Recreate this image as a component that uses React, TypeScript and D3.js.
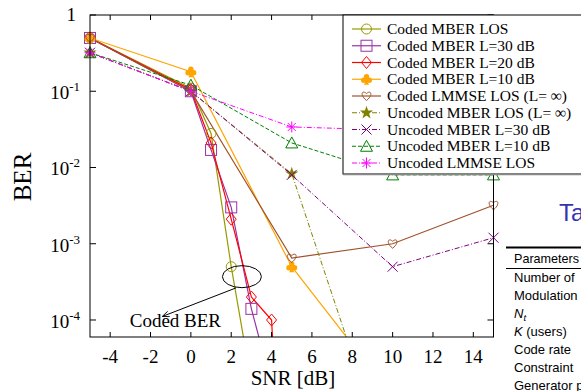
import React from 'react';
import * as d3 from 'd3';

// SNR axis ticks and BER decades
const snrTicks = [-4, -2, 0, 2, 4, 6, 8, 10, 12, 14];
const berExponents = [-4, -3, -2, -1, 0];

// series values (BER vs SNR in dB)
const codedMberLosX = [-5, 0, 1, 2, 3];
const codedMberLosY = [0.5, 0.11, 0.028, 5e-4, 1.5e-5];
const codedMber30X = [-5, 0, 1, 2, 3, 4];
const codedMber30Y = [0.5, 0.1, 0.017, 3e-3, 1.4e-4, 1.4e-5];
const codedMber20X = [-5, 0, 1, 2, 3, 4, 5];
const codedMber20Y = [0.5, 0.105, 0.021, 2.1e-3, 2e-4, 1e-4, 1e-9];
const codedMber10X = [-5, 0, 5, 10];
const codedMber10Y = [0.5, 0.18, 5e-4, 1e-5];
const codedLmmseX = [-5, 0, 5, 10, 15];
const codedLmmseY = [0.5, 0.1, 6.5e-4, 1e-3, 3.2e-3];
const uncodedMberLosX = [-5, 0, 5, 10];
const uncodedMberLosY = [0.32, 0.1, 8.3e-3, 9e-7];
const uncodedMber30X = [-5, 0, 5, 10, 15];
const uncodedMber30Y = [0.32, 0.1, 8e-3, 5e-4, 1.2e-3];
const uncodedMber10X = [-5, 0, 5, 10, 15];
const uncodedMber10Y = [0.32, 0.12, 0.021, 8e-3, 8e-3];
const uncodedLmmseX = [-5, 0, 5, 10, 15];
const uncodedLmmseY = [0.32, 0.1, 0.034, 0.031, 0.03];

const legendLabels = [
  'Coded MBER LOS',
  'Coded MBER L=30 dB',
  'Coded MBER L=20 dB',
  'Coded MBER L=10 dB',
  'Coded LMMSE LOS (L= \u221e)',
  'Uncoded MBER LOS (L= \u221e)',
  'Uncoded MBER L=30 dB',
  'Uncoded MBER L=10 dB',
  'Uncoded LMMSE LOS',
];

// the table sits at the right edge of the slide, only its start is visible
const tableTitle = 'Ta';
const tableHeader = 'Parameters';
const tableRows = ['Number of', 'Modulation', 'Nt', 'K (users)', 'Code rate', 'Constraint', 'Generator p'];

const series = [
  { xs: codedMberLosX, ys: codedMberLosY, color: '#999900', mark: 'circle', dash: null, w: 1.2 },
  { xs: codedMber30X, ys: codedMber30Y, color: '#9933a8', mark: 'square', dash: null, w: 1.2 },
  { xs: codedMber20X, ys: codedMber20Y, color: '#ff0000', mark: 'diamond', dash: null, w: 1.2 },
  { xs: codedMber10X, ys: codedMber10Y, color: '#ffa500', mark: 'club', dash: null, w: 1.2 },
  { xs: codedLmmseX, ys: codedLmmseY, color: '#a0522d', mark: 'heart', dash: null, w: 1.2 },
  { xs: uncodedMberLosX, ys: uncodedMberLosY, color: '#808000', mark: 'star', dash: '5,2,1,2', w: 1 },
  { xs: uncodedMber30X, ys: uncodedMber30Y, color: '#800080', mark: 'x', dash: '5,2,1,2', w: 1 },
  { xs: uncodedMber10X, ys: uncodedMber10Y, color: '#008000', mark: 'triangle', dash: '4,2', w: 1 },
  { xs: uncodedLmmseX, ys: uncodedLmmseY, color: '#ff00ff', mark: 'asterisk', dash: '5,2,1,2', w: 1 },
];

const x = d3.scaleLinear().domain([-5, 15]).range([90, 493.5]);
const y = d3.scaleLog().domain([Math.pow(10, -4.223), 1]).range([337, 15]);

const starPath = d3.symbol(d3.symbolStar, 55)();

function Marker({ kind, cx, cy, color }: { kind: string; cx: number; cy: number; color: string }) {
  const t = `translate(${cx},${cy})`;
  const s = { stroke: color, fill: 'none', strokeWidth: 1 };
  switch (kind) {
    case 'circle':
      return <circle cx={cx} cy={cy} r={5} {...s} />;
    case 'square':
      return <rect x={cx - 5.5} y={cy - 5.5} width={11} height={11} {...s} />;
    case 'diamond':
      return <polygon transform={t} points="0,-6 5,0 0,6 -5,0" {...s} />;
    case 'club':
      return (
        <g transform={t} fill={color}>
          <circle cx={0} cy={-2.6} r={2.7} />
          <circle cx={-2.8} cy={1} r={2.7} />
          <circle cx={2.8} cy={1} r={2.7} />
          <polygon points="0,0 -2.5,5.5 2.5,5.5" />
        </g>
      );
    case 'heart':
      return <path transform={t} d="M0,4.5 C-7,-1 -4.5,-6.5 0,-2.5 C4.5,-6.5 7,-1 0,4.5 Z" {...s} />;
    case 'star':
      return <path transform={t} d={starPath} fill={color} />;
    case 'x':
      return <path transform={t} d="M-5,-5L5,5M-5,5L5,-5" {...s} />;
    case 'triangle':
      return <polygon transform={t} points="0,-6 6,5 -6,5" {...s} />;
    case 'asterisk':
      return <path transform={t} d="M0,-5.5V5.5M-5.5,0H5.5M-4,-4L4,4M-4,4L4,-4" {...s} />;
    default:
      return null;
  }
}

export default function App() {
  const line = d3.line<[number, number]>().x(d => x(d[0])).y(d => y(d[1]));
  const ymin = y.domain()[0];
  const legX = 343, legTop = 15, legStep = 16.75;

  const ellC = [x(2.53), y(3.7e-4)];
  const arrowFrom = [x(2.23), y(2.63e-4)];
  const arrowTo = [x(-1.39), y(1.12e-4)];

  return (
    <svg width={581} height={391} style={{ position: 'fixed', left: 0, top: 0, background: '#fff' }}
      fontFamily="'Liberation Serif', 'Times New Roman', serif">
      <defs>
        <clipPath id="plot"><rect x={90} y={15} width={403.5} height={322} /></clipPath>
        <marker id="arr" viewBox="0 0 10 10" refX={9} refY={5} markerWidth={7} markerHeight={7} orient="auto">
          <path d="M0,1 L10,5 L0,9" fill="none" stroke="#000" strokeWidth={1.2} />
        </marker>
      </defs>
      <rect width={581} height={391} fill="#fff" />

      {/* series lines */}
      <g clipPath="url(#plot)">
        {series.map((s, i) => (
          <path key={i} d={line(s.xs.map((v, j) => [v, s.ys[j]] as [number, number])) || ''}
            fill="none" stroke={s.color} strokeWidth={s.w} strokeDasharray={s.dash || undefined} />
        ))}
      </g>
      {series.map((s, i) => (
        <g key={i}>
          {s.xs.map((v, j) => s.ys[j] >= ymin
            ? <Marker key={j} kind={s.mark} cx={x(v)} cy={y(s.ys[j])} color={s.color} />
            : null)}
        </g>
      ))}

      {/* frame and ticks */}
      <rect x={90} y={15} width={403.5} height={322} fill="none" stroke="#000" strokeWidth={1} />
      {snrTicks.map(t => (
        <g key={t}>
          <line x1={x(t)} x2={x(t)} y1={337} y2={332} stroke="#000" />
          <line x1={x(t)} x2={x(t)} y1={15} y2={20} stroke="#000" />
          <text x={x(t)} y={363} textAnchor="middle" fontSize={19}>{t}</text>
        </g>
      ))}
      {berExponents.map(e => (
        <g key={e}>
          <line x1={90} x2={96} y1={y(Math.pow(10, e))} y2={y(Math.pow(10, e))} stroke="#000" />
          <line x1={493.5} x2={487.5} y1={y(Math.pow(10, e))} y2={y(Math.pow(10, e))} stroke="#000" />
          {e === 0
            ? <text x={76} y={y(1) + 6} textAnchor="end" fontSize={19}>1</text>
            : <text x={80} y={y(Math.pow(10, e)) + 8} textAnchor="end" fontSize={19}>
                10<tspan fontSize={13} dy={-8}>{'-' + Math.abs(e)}</tspan>
              </text>}
        </g>
      ))}
      <text x={293} y={385} textAnchor="middle" fontSize={21}>SNR [dB]</text>
      <text transform="translate(31,177) rotate(-90)" textAnchor="middle" fontSize={25}>BER</text>

      {/* annotation */}
      <ellipse cx={ellC[0]} cy={ellC[1]} rx={19.5} ry={11} fill="none" stroke="#000" strokeWidth={1} />
      <line x1={arrowFrom[0]} y1={arrowFrom[1]} x2={arrowTo[0]} y2={arrowTo[1]} stroke="#000" strokeWidth={1}
        markerEnd="url(#arr)" />
      <text x={x(-3.03)} y={y(8.1e-5)} fontSize={19}>Coded BER</text>

      {/* legend */}
      <rect x={legX} y={legTop} width={250} height={159} fill="#fff" stroke="#000" strokeWidth={1} />
      <line x1={legX} x2={590} y1={legTop + 159.5} y2={legTop + 159.5} stroke="#888" strokeWidth={1.5} />
      {series.map((s, i) => {
        const cy = 29 + i * legStep;
        return (
          <g key={i}>
            <line x1={352} x2={381} y1={cy} y2={cy} stroke={s.color} strokeWidth={s.w}
              strokeDasharray={s.dash || undefined} />
            <Marker kind={s.mark} cx={366.5} cy={cy} color={s.color} />
            <text x={387} y={cy + 5} fontSize={15.5}>{legendLabels[i]}</text>
          </g>
        );
      })}

      {/* partial table on the right */}
      <g fontFamily="'Liberation Sans', Arial, sans-serif">
        <text x={559} y={221} fontSize={24} fill="#3333b3">{tableTitle}</text>
        <line x1={506} x2={590} y1={247.5} y2={247.5} stroke="#000" strokeWidth={2} />
        <text x={514} y={263} fontSize={12.6}>{tableHeader}</text>
        <line x1={506} x2={590} y1={268.5} y2={268.5} stroke="#000" strokeWidth={1} />
        {tableRows.map((r, i) => {
          const yy = 282 + i * 18;
          if (r === 'Nt') {
            return (
              <text key={r} x={514} y={yy} fontSize={13}>
                <tspan fontStyle="italic">N</tspan><tspan fontStyle="italic" fontSize={9.5} dy={3}>t</tspan>
              </text>
            );
          }
          if (r.startsWith('K ')) {
            return (
              <text key={r} x={514} y={yy} fontSize={13}>
                <tspan fontStyle="italic">K</tspan>{' (users)'}
              </text>
            );
          }
          return <text key={r} x={514} y={yy} fontSize={13}>{r}</text>;
        })}
      </g>
    </svg>
  );
}
